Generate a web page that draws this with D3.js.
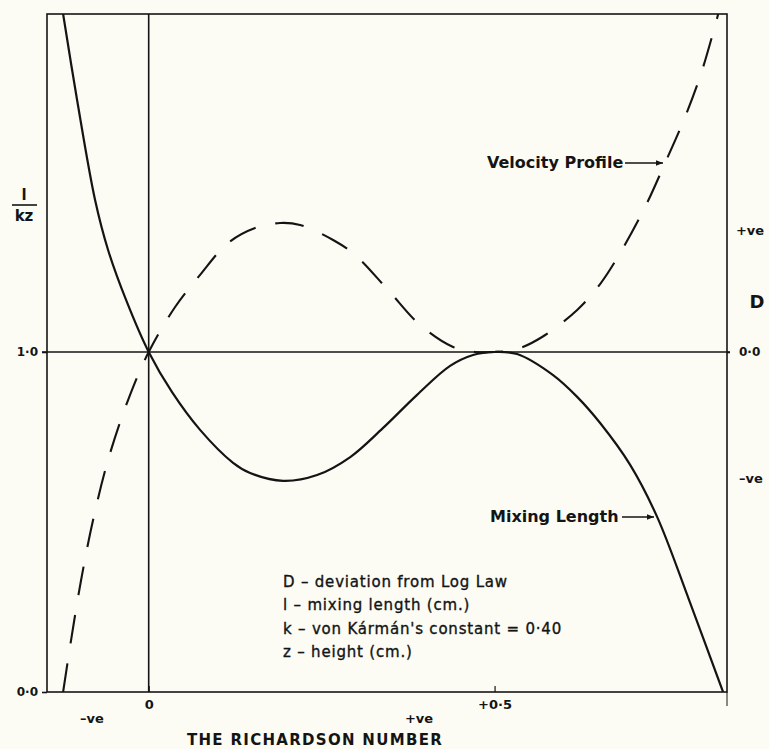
<!DOCTYPE html>
<html>
<head>
<meta charset="utf-8">
<script src="https://cdn.jsdelivr.net/npm/d3@7"></script>
<style>
  html, body { margin: 0; padding: 0; background: #fcfcf5; }
  svg { display: block; }
  text { font-family: "DejaVu Sans", sans-serif; fill: #141414; }
</style>
</head>
<body>
<svg id="chart" width="769" height="749"></svg>
<script>
// Mixing length l/kz against the Richardson number (solid curve)
const riMixing = [-0.1237, -0.1035, -0.0775, -0.0587, -0.0327, 0, 0.0338, 0.0743, 0.122, 0.1466, 0.1943, 0.2434, 0.2914, 0.3385, 0.388, 0.4357, 0.4689, 0.5, 0.5325, 0.5846, 0.6194, 0.6526, 0.696, 0.735, 0.7811, 0.8303];
const mixingLength = [1.994, 1.741, 1.447, 1.300, 1.153, 1.0, 0.882, 0.771, 0.674, 0.644, 0.621, 0.638, 0.691, 0.776, 0.874, 0.959, 0.991, 1.0, 0.994, 0.932, 0.868, 0.791, 0.668, 0.515, 0.271, 0.0];

// Deviation D of the velocity profile from the log law (dashed curve)
const riVelocity = [-0.1237, -0.1122, -0.0977, -0.0804, -0.0587, -0.0298, 0, 0.0382, 0.0743, 0.1148, 0.1538, 0.190, 0.2189, 0.2666, 0.2984, 0.3461, 0.3923, 0.44, 0.4718, 0.5, 0.5325, 0.5687, 0.6194, 0.6526, 0.6815, 0.7176, 0.7465, 0.7754, 0.8002, 0.8233];
const deviation = [-2.881, -2.441, -1.932, -1.424, -0.915, -0.407, 0, 0.381, 0.653, 0.924, 1.051, 1.093, 1.076, 0.949, 0.822, 0.525, 0.229, 0.042, 0.0, 0.0, 0.025, 0.127, 0.356, 0.576, 0.839, 1.229, 1.602, 1.992, 2.390, 2.864];

// Tick labels
const xTickValues = [0, 0.5];
const xTickLabels = ["0", "+0·5"];
const leftTickValues = [0, 1];
const leftTickLabels = ["0·0", "1·0"];
const rightTickValues = [0];
const rightTickLabels = ["0·0"];
const legendLines = [
  "D – deviation from Log Law",
  "l  – mixing length (cm.)",
  "k – von Kármán's constant = 0·40",
  "z – height (cm.)"
];

const svg = d3.select("#chart");
const ink = "#141414";

const x = d3.scaleLinear().domain([-0.147, 0.836]).range([47, 727]);
const y = d3.scaleLinear().domain([0, 1.994]).range([692, 14]);
const yD = d3.scaleLinear().domain([-2.881, 2.864]).range([692, 14]);

const [x0, x1] = x.range();
const [yb, yt] = y.range();

// Plot frame
svg.append("rect")
  .attr("x", x0).attr("y", yt)
  .attr("width", x1 - x0).attr("height", yb - yt)
  .attr("fill", "none").attr("stroke", ink).attr("stroke-width", 1.6);

// Right frame edge runs a little past the base line
svg.append("line")
  .attr("x1", x1).attr("x2", x1).attr("y1", yb).attr("y2", yb + 14)
  .attr("stroke", ink).attr("stroke-width", 1);

// Reference lines: Ri = 0 and l/kz = 1
svg.append("line")
  .attr("x1", x(0)).attr("x2", x(0)).attr("y1", yt).attr("y2", yb)
  .attr("stroke", ink).attr("stroke-width", 1.6);
svg.append("line")
  .attr("x1", x0 - 5).attr("x2", x1 + 3).attr("y1", y(1)).attr("y2", y(1))
  .attr("stroke", ink).attr("stroke-width", 1.6);

// Left axis ticks and labels
const leftAxis = d3.axisLeft(y).tickValues(leftTickValues)
  .tickFormat((d, i) => leftTickLabels[i]).tickSize(5).tickPadding(4);
const gl = svg.append("g").attr("transform", `translate(${x0},0)`).call(leftAxis);
gl.select(".domain").remove();
gl.selectAll("line").attr("stroke", ink).attr("stroke-width", 1.6);
gl.selectAll("text").attr("font-size", 12).attr("font-weight", "bold")
  .attr("font-family", "DejaVu Sans").attr("fill", ink);

// Right axis (D)
const rightAxis = d3.axisRight(yD).tickValues(rightTickValues)
  .tickFormat((d, i) => rightTickLabels[i]).tickSize(3).tickPadding(9);
const gr = svg.append("g").attr("transform", `translate(${x1},0)`).call(rightAxis);
gr.select(".domain").remove();
gr.selectAll("line").attr("stroke", ink).attr("stroke-width", 1.6);
gr.selectAll("text").attr("font-size", 12).attr("font-weight", "bold")
  .attr("font-family", "DejaVu Sans").attr("fill", ink);

// Bottom axis: ticks point inward
const bottomAxis = d3.axisBottom(x).tickValues(xTickValues)
  .tickFormat((d, i) => xTickLabels[i]).tickSize(-6).tickPadding(8);
const gb = svg.append("g").attr("transform", `translate(0,${yb})`).call(bottomAxis);
gb.select(".domain").remove();
gb.selectAll("line").attr("stroke", ink).attr("stroke-width", 1.2);
gb.selectAll("text").attr("font-size", 13).attr("font-weight", "bold")
  .attr("font-family", "DejaVu Sans").attr("fill", ink);

// Curves
const clipId = "plot-clip";
svg.append("clipPath").attr("id", clipId).append("rect")
  .attr("x", x0).attr("y", yt).attr("width", x1 - x0).attr("height", yb - yt);

const mixingLine = d3.line()
  .x((d, i) => x(riMixing[i])).y(d => y(d))
  .curve(d3.curveCatmullRom.alpha(0.5));
svg.append("path")
  .attr("clip-path", `url(#${clipId})`)
  .attr("d", mixingLine(mixingLength))
  .attr("fill", "none").attr("stroke", ink).attr("stroke-width", 2.2);

const velocityLine = d3.line()
  .x((d, i) => x(riVelocity[i])).y(d => yD(d))
  .curve(d3.curveCatmullRom.alpha(0.5));
svg.append("path")
  .attr("clip-path", `url(#${clipId})`)
  .attr("d", velocityLine(deviation))
  .attr("fill", "none").attr("stroke", ink).attr("stroke-width", 2.1)
  .attr("stroke-dasharray", "29,20");

// Arrow marker for curve labels
svg.append("defs").append("marker")
  .attr("id", "arrow").attr("viewBox", "0 0 10 10")
  .attr("refX", 10).attr("refY", 5)
  .attr("markerWidth", 10).attr("markerHeight", 7)
  .attr("markerUnits", "userSpaceOnUse")
  .attr("orient", "auto")
  .append("path").attr("d", "M0,1 L10,5 L0,9 Z").attr("fill", ink);

function curveLabel(text, tx, ty, ax1, ax2) {
  svg.append("text").attr("x", tx).attr("y", ty)
    .attr("font-size", 16).attr("font-weight", "bold")
    .attr("dominant-baseline", "middle").text(text);
  svg.append("line").attr("x1", ax1).attr("x2", ax2).attr("y1", ty).attr("y2", ty)
    .attr("stroke", ink).attr("stroke-width", 1.5).attr("marker-end", "url(#arrow)");
}
curveLabel("Velocity Profile", 487, 163, 625, 663);
curveLabel("Mixing Length", 490, 517, 622, 654);

// Left axis title l / kz
svg.append("text").attr("x", 24).attr("y", 200).attr("text-anchor", "middle")
  .attr("font-size", 15).attr("font-weight", "bold").text("l");
svg.append("line").attr("x1", 12).attr("x2", 37).attr("y1", 205).attr("y2", 205)
  .attr("stroke", ink).attr("stroke-width", 1.6);
svg.append("text").attr("x", 24).attr("y", 221).attr("text-anchor", "middle")
  .attr("font-size", 15).attr("font-weight", "bold").text("kz");

// Right axis annotations
svg.append("text").attr("x", 750).attr("y", 231).attr("text-anchor", "middle")
  .attr("dominant-baseline", "middle").attr("font-size", 13).attr("font-weight", "bold").text("+ve");
svg.append("text").attr("x", 757).attr("y", 303).attr("text-anchor", "middle")
  .attr("dominant-baseline", "middle").attr("font-size", 18).attr("font-weight", "bold").text("D");
svg.append("text").attr("x", 751).attr("y", 479).attr("text-anchor", "middle")
  .attr("dominant-baseline", "middle").attr("font-size", 13).attr("font-weight", "bold").text("–ve");

// Bottom annotations
svg.append("text").attr("x", 92).attr("y", 719).attr("text-anchor", "middle")
  .attr("dominant-baseline", "middle").attr("font-size", 13).attr("font-weight", "bold").text("–ve");
svg.append("text").attr("x", 419).attr("y", 719).attr("text-anchor", "middle")
  .attr("dominant-baseline", "middle").attr("font-size", 13).attr("font-weight", "bold").text("+ve");
svg.append("text").attr("x", 315).attr("y", 740).attr("text-anchor", "middle")
  .attr("dominant-baseline", "middle").attr("font-size", 15).attr("font-weight", "bold")
  .attr("letter-spacing", 1.3).text("THE RICHARDSON NUMBER");

// Legend of symbols
svg.append("g").selectAll("text").data(legendLines).join("text")
  .attr("x", 283).attr("y", (d, i) => 582 + i * 23.5)
  .attr("dominant-baseline", "middle").attr("font-size", 15)
  .attr("stroke", ink).attr("stroke-width", 0.35)
  .attr("letter-spacing", 0.8).text(d => d);
</script>
</body>
</html>
